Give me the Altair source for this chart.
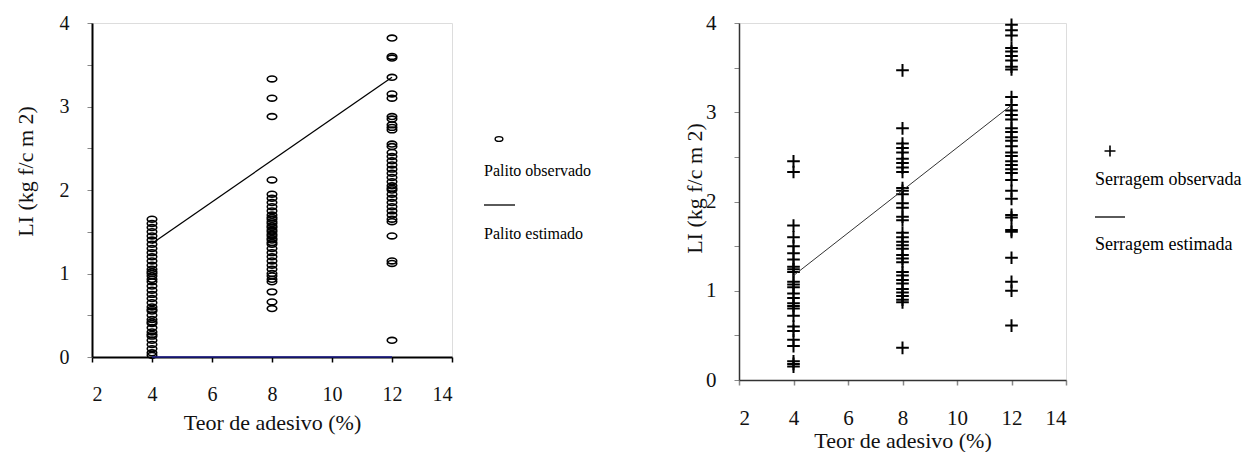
import altair as alt
import pandas as pd

# ---------------- data ----------------
teor = [4, 8, 12]

palito_4 = [1.65, 1.6, 1.55, 1.5, 1.45, 1.4, 1.35, 1.3, 1.25, 1.2, 1.15, 1.1, 1.05, 1.02,
            1.0, 0.97, 0.93, 0.9, 0.85, 0.8, 0.75, 0.7, 0.65, 0.6, 0.57, 0.55, 0.5, 0.45,
            0.42, 0.4, 0.35, 0.3, 0.27, 0.25, 0.2, 0.15, 0.1, 0.05, 0.02]
palito_8 = [3.33, 3.1, 2.88, 2.12, 1.95, 1.9, 1.85, 1.8, 1.75, 1.7, 1.67, 1.65, 1.62, 1.6,
            1.57, 1.55, 1.52, 1.5, 1.47, 1.45, 1.42, 1.4, 1.37, 1.35, 1.3, 1.25, 1.2, 1.15,
            1.1, 1.05, 1.0, 0.97, 0.93, 0.9, 0.78, 0.66, 0.58]
palito_12 = [3.82, 3.6, 3.58, 3.35, 3.15, 3.1, 2.88, 2.85, 2.78, 2.75, 2.72, 2.55, 2.52,
             2.45, 2.4, 2.35, 2.3, 2.25, 2.2, 2.15, 2.1, 2.05, 2.02, 2.0, 1.95, 1.9, 1.85,
             1.8, 1.75, 1.7, 1.65, 1.62, 1.45, 1.15, 1.12, 0.2]

serragem_4 = [2.45, 2.33, 1.73, 1.6, 1.5, 1.42, 1.35, 1.27, 1.24, 1.21, 1.1, 1.07, 1.04,
              0.97, 0.92, 0.86, 0.83, 0.8, 0.72, 0.6, 0.55, 0.45, 0.38, 0.21, 0.18, 0.15]
serragem_8 = [3.47, 2.82, 2.65, 2.6, 2.55, 2.48, 2.43, 2.38, 2.33, 2.15, 2.12, 2.08, 1.98,
              1.93, 1.83, 1.79, 1.65, 1.6, 1.55, 1.51, 1.47, 1.4, 1.36, 1.32, 1.21, 1.17,
              1.12, 1.08, 1.02, 0.98, 0.94, 0.9, 0.87, 0.36]
serragem_12 = [3.98, 3.92, 3.86, 3.72, 3.68, 3.63, 3.58, 3.51, 3.48, 3.17, 3.08, 3.02, 2.97,
               2.92, 2.82, 2.78, 2.72, 2.68, 2.62, 2.55, 2.51, 2.45, 2.41, 2.36, 2.32, 2.24,
               2.12, 2.03, 1.85, 1.82, 1.68, 1.66, 1.37, 1.1, 1.0, 0.61]

est_x = [4, 12]
palito_est_y = [1.36, 3.35]
serragem_est_y = [1.17, 3.08]
zero_line_x = [4, 12]
zero_line_y = [0, 0]

x_ticks = list(range(2, 15))
y_ticks = [0, 0.5, 1, 1.5, 2, 2.5, 3, 3.5, 4]

x_title = "Teor de adesivo (%)"
y_title = "LI (kg f/c m 2)"
legend_left = ["Palito observado", "Palito estimado"]
legend_right = ["Serragem observada", "Serragem estimada"]

FONT = "Liberation Serif"
ELLIPSE = "M-1,0A1,0.62,0,1,0,1,0A1,0.62,0,1,0,-1,0Z"
PLUS = "M-1,0L1,0M0,-1L0,1"


def obs_frame(cols):
    xs, ys = [], []
    for xv, vals in zip(teor, cols):
        xs += [xv] * len(vals)
        ys += vals
    return pd.DataFrame({"x": xs, "y": ys})


left_obs = obs_frame([palito_4, palito_8, palito_12])
right_obs = obs_frame([serragem_4, serragem_8, serragem_12])
left_est = pd.DataFrame({"x": est_x, "y": palito_est_y})
right_est = pd.DataFrame({"x": est_x, "y": serragem_est_y})
zero_df = pd.DataFrame({"x": zero_line_x, "y": zero_line_y})


def axes(label_size, title_size, ytitle_x, ytitle_y, xtitle_y, dom_col, dom_w, tick_col):
    xenc = alt.X(
        "x:Q",
        scale=alt.Scale(domain=[2, 14], nice=False, zero=False),
        axis=alt.Axis(
            values=x_ticks,
            labelExpr="datum.value % 2 == 0 ? format(datum.value, 'd') : ''",
            title=x_title, grid=False, domainColor=dom_col, domainWidth=dom_w,
            tickColor=tick_col, tickSize=5, tickWidth=1.5, labelPadding=22,
            labelFont=FONT, labelFontSize=label_size, labelColor="#111",
            titleFont=FONT, titleFontSize=title_size, titleFontWeight="normal",
            titleColor="#111", titleY=xtitle_y, titleBaseline="middle",
        ),
    )
    yenc = alt.Y(
        "y:Q",
        scale=alt.Scale(domain=[0, 4], nice=False),
        axis=alt.Axis(
            values=y_ticks,
            labelExpr="datum.value % 1 == 0 ? format(datum.value, 'd') : ''",
            title=y_title, grid=False, domainColor=dom_col, domainWidth=dom_w,
            tickColor="#888", tickSize=5, tickWidth=1, labelPadding=18,
            labelFont=FONT, labelFontSize=label_size, labelColor="#111",
            titleFont=FONT, titleFontSize=title_size, titleFontWeight="normal",
            titleColor="#111", titleX=ytitle_x, titleY=ytitle_y,
            titleBaseline="middle", titleAngle=270,
        ),
    )
    return xenc, yenc


# ---------------- left panel ----------------
lx, ly = axes(20, 22, -67, 148, 65, "black", 2, "black")
left_base = alt.Chart(left_obs).mark_point(
    shape=ELLIPSE, filled=False, color="black", size=90, strokeWidth=1.6, opacity=1
).encode(x=lx, y=ly)
left_zero = alt.Chart(zero_df).mark_line(color="#1c1c8c", strokeWidth=1.5).encode(x="x:Q", y="y:Q")
left_line = alt.Chart(left_est).mark_line(color="black", strokeWidth=1.3).encode(x="x:Q", y="y:Q")

leg_l = pd.DataFrame({"label": legend_left})
left_leg_sym = alt.Chart(leg_l.iloc[:1]).mark_point(
    shape=ELLIPSE, filled=False, color="black", size=60, strokeWidth=1.4, opacity=1
).encode(x=alt.value(407), y=alt.value(116))
left_leg_t1 = alt.Chart(leg_l.iloc[:1]).mark_text(
    font=FONT, fontSize=16, align="left", baseline="middle", color="black"
).encode(x=alt.value(392), y=alt.value(148), text="label:N")
left_leg_line = alt.Chart(leg_l.iloc[1:]).mark_rule(color="black", strokeWidth=1.3).encode(
    x=alt.value(392), x2=alt.value(423), y=alt.value(182))
left_leg_t2 = alt.Chart(leg_l.iloc[1:]).mark_text(
    font=FONT, fontSize=16, align="left", baseline="middle", color="black"
).encode(x=alt.value(392), y=alt.value(211), text="label:N")

left = alt.layer(
    left_base, left_zero, left_line, left_leg_sym, left_leg_t1, left_leg_line, left_leg_t2
).properties(width=360, height=334)

# ---------------- right panel ----------------
rx, ry = axes(21, 22, -45, 165, 60, "#333", 1.5, "#888")
right_base = alt.Chart(right_obs).mark_point(
    shape=PLUS, filled=False, color="black", size=160, strokeWidth=2, opacity=1
).encode(x=rx, y=ry)
right_line = alt.Chart(right_est).mark_line(color="#333", strokeWidth=1).encode(x="x:Q", y="y:Q")

leg_r = pd.DataFrame({"label": legend_right})
right_leg_sym = alt.Chart(leg_r.iloc[:1]).mark_point(
    shape=PLUS, filled=False, color="black", size=120, strokeWidth=1.6, opacity=1
).encode(x=alt.value(371), y=alt.value(128))
right_leg_t1 = alt.Chart(leg_r.iloc[:1]).mark_text(
    font=FONT, fontSize=18, align="left", baseline="middle", color="black"
).encode(x=alt.value(356), y=alt.value(157), text="label:N")
right_leg_line = alt.Chart(leg_r.iloc[1:]).mark_rule(color="black", strokeWidth=1.3).encode(
    x=alt.value(356), x2=alt.value(386), y=alt.value(194))
right_leg_t2 = alt.Chart(leg_r.iloc[1:]).mark_text(
    font=FONT, fontSize=18, align="left", baseline="middle", color="black"
).encode(x=alt.value(356), y=alt.value(222), text="label:N")

right = alt.layer(
    right_base, right_line, right_leg_sym, right_leg_t1, right_leg_line, right_leg_t2
).properties(width=327, height=357)

chart = alt.hconcat(left, right, spacing=287, bounds="flush").properties(
    padding={"left": 13, "top": 11, "right": 0, "bottom": 0}
).configure_view(stroke=None).configure(background="white")

chart.save("out.html", embed_options={"renderer": "svg", "actions": False})
